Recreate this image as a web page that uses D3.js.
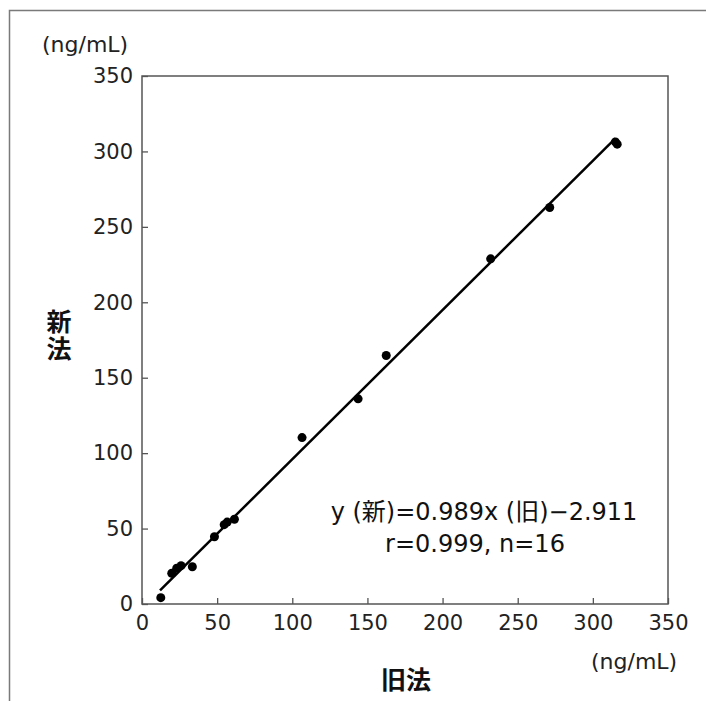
<!DOCTYPE html>
<html>
<head>
<meta charset="utf-8">
<script src="https://cdn.jsdelivr.net/npm/d3@7"></script>
<style>
  body { margin: 0; background: #fff; }
  svg { display: block; }
</style>
</head>
<body>
<svg id="svg"></svg>
<script>
/*global d3*/

// 旧法 (x) vs 新法 (y), ng/mL
const oldMethod = [12.5, 19.8, 23.1, 26, 33.5, 48.2, 54.7, 56.7, 61.5, 106.5, 143.8, 162.5, 232, 271.3, 315, 316.2];
const newMethod = [4.2, 20.4, 23.7, 25.4, 24.7, 44.6, 52.6, 54.3, 56.2, 110.3, 136, 164.7, 228.8, 262.8, 306.3, 304.8];
const xTicks = [0, 50, 100, 150, 200, 250, 300, 350];
const yTicks = [0, 50, 100, 150, 200, 250, 300, 350];
const slope = 0.989;
const intercept = -2.911;
const fitRange = [12, 315];
const eqLines = ["y (新)=0.989x (旧)−2.911", "r=0.999, n=16"];

const width = 706;
const height = 701;
const margin = {top: 76, left: 142, right: 38, bottom: 97};
const innerWidth = width - margin.left - margin.right;
const innerHeight = height - margin.top - margin.bottom;

const latin = "'DejaVu Sans', 'Noto Sans CJK JP', sans-serif";
const cjk = "'Noto Sans CJK JP', sans-serif";

const svg = d3.select("#svg")
    .attr("width", width)
    .attr("height", height);

svg.append("rect").attr("width", width).attr("height", height).attr("fill", "#fff");

// outer frame (runs off the right and bottom edges)
svg.append("path")
    .attr("d", `M9.5,${height + 5}V10.5H${width + 5}`)
    .attr("fill", "none")
    .attr("stroke", "#7a7a7a")
    .attr("stroke-width", 1.5);

const xScale = d3.scaleLinear().domain([0, 350]).range([0, innerWidth]);
const yScale = d3.scaleLinear().domain([0, 350]).range([innerHeight, 0]);

const g = svg.append("g")
    .attr("transform", `translate(${margin.left},${margin.top})`);

const xAxis = d3.axisBottom(xScale)
    .tickValues(xTicks)
    .tickSizeInner(-6)
    .tickSizeOuter(0)
    .tickPadding(11);

const yAxis = d3.axisLeft(yScale)
    .tickValues(yTicks)
    .tickSizeInner(-6)
    .tickSizeOuter(0)
    .tickPadding(9);

const xAxisG = g.append("g")
    .attr("transform", `translate(0,${innerHeight})`)
    .call(xAxis);
const yAxisG = g.append("g").call(yAxis);

[xAxisG, yAxisG].forEach(a => {
    a.attr("font-family", latin).attr("font-size", 21);
    a.select(".domain").remove();
    a.selectAll(".tick line").attr("stroke", "#555").attr("stroke-width", 1.3);
    a.selectAll(".tick text").attr("fill", "#222");
});

// plot box
g.append("rect")
    .attr("width", innerWidth)
    .attr("height", innerHeight)
    .attr("fill", "none")
    .attr("stroke", "#555")
    .attr("stroke-width", 1.5);

// regression line
g.append("line")
    .attr("x1", xScale(fitRange[0]))
    .attr("y1", yScale(slope * fitRange[0] + intercept))
    .attr("x2", xScale(fitRange[1]))
    .attr("y2", yScale(slope * fitRange[1] + intercept))
    .attr("stroke", "#000")
    .attr("stroke-width", 2.5);

// points
g.selectAll("circle").data(oldMethod)
    .enter().append("circle")
    .attr("cx", d => xScale(d))
    .attr("cy", (d, i) => yScale(newMethod[i]))
    .attr("r", 4.5)
    .attr("fill", "#000");

// equation
g.append("text")
    .attr("x", 342)
    .attr("y", 444)
    .attr("text-anchor", "middle")
    .attr("fill", "#111")
    .style("font-family", latin)
    .style("font-size", "24px")
    .text(eqLines[0]);

g.append("text")
    .attr("x", 333)
    .attr("y", 476)
    .attr("text-anchor", "middle")
    .attr("fill", "#111")
    .style("font-family", latin)
    .style("font-size", "24px")
    .text(eqLines[1]);

// units
svg.append("text")
    .attr("x", 42)
    .attr("y", 52)
    .attr("fill", "#222")
    .style("font-family", latin)
    .style("font-size", "22px")
    .text("(ng/mL)");

svg.append("text")
    .attr("x", 591)
    .attr("y", 669)
    .attr("fill", "#222")
    .style("font-family", latin)
    .style("font-size", "22px")
    .text("(ng/mL)");

// axis titles
const yTitle = svg.append("text")
    .attr("x", 59)
    .attr("fill", "#111")
    .attr("text-anchor", "middle")
    .style("font-family", cjk)
    .style("font-size", "25px")
    .style("font-weight", "bold");
yTitle.append("tspan").attr("x", 59).attr("y", 331).text("新");
yTitle.append("tspan").attr("x", 59).attr("y", 358).text("法");

svg.append("text")
    .attr("x", 406)
    .attr("y", 689)
    .attr("text-anchor", "middle")
    .attr("fill", "#111")
    .style("font-family", cjk)
    .style("font-size", "25px")
    .style("font-weight", "bold")
    .text("旧法");
</script>
</body>
</html>
